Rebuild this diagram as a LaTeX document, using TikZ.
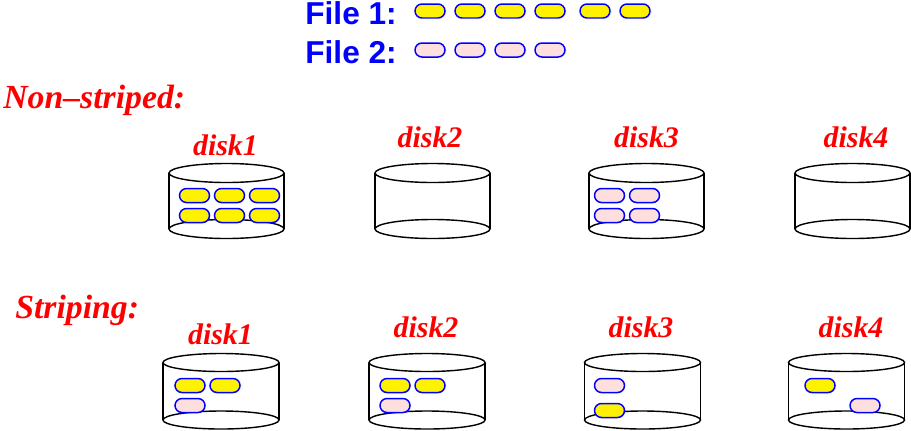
\documentclass[tikz,border=0pt]{standalone}
\usepackage{fontspec}
\setmainfont{Liberation Serif}
\newfontfamily\lsans{Liberation Sans}
\usetikzlibrary{shapes.misc}
\definecolor{pillpink}{RGB}{255,222,222}
\newcommand\drawcyl[5]{%
  \draw[cylline] (#1,#2) ellipse [x radius=#4, y radius=#5];
  \draw[cylline] (#1,#3) ellipse [x radius=#4, y radius=#5];
  \draw[cylline] (#1-#4,#2) -- (#1-#4,#3) (#1+#4,#2) -- (#1+#4,#3);}
\begin{document}
\begin{tikzpicture}[x=0.02cm,y=-0.02cm,
  pill/.style={draw=blue, line width=0.85pt, rounded rectangle, minimum width=0.6cm, minimum height=0.28cm, inner sep=0pt},
  yel/.style={pill, fill=yellow},
  pnk/.style={pill, fill=pillpink},
  disklabel/.style={text=red, font=\fontsize{17}{20}\selectfont\bfseries\itshape, anchor=base, inner sep=0pt},
  head/.style={text=red, font=\fontsize{19.2}{22}\selectfont\bfseries\itshape, anchor=base west, inner sep=0pt},
  filelabel/.style={text=blue, font=\lsans\bfseries\fontsize{18}{20}\selectfont, anchor=base west, inner sep=0pt},
  cylline/.style={black, line width=0.8pt}]
\useasboundingbox (0,0) rectangle (911,430);

% file legend
\node[filelabel] (file1) at (305,24) {File 1:};
\node[filelabel] (file2) at (305,63) {File 2:};
\node[yel] (a1) at (430,11) {};
\node[yel] (a2) at (470,11) {};
\node[yel] (a3) at (510,11) {};
\node[yel] (a4) at (550,11) {};
\node[yel] (a5) at (595,11) {};
\node[yel] (a6) at (635,11) {};
\node[pnk] (b1) at (430,50) {};
\node[pnk] (b2) at (470,50) {};
\node[pnk] (b3) at (510,50) {};
\node[pnk] (b4) at (550,50) {};

% headings
\node[head] (nonstriped) at (3,108) {Non--striped:};
\node[head] (striping) at (15,318) {Striping:};

% top row disks
\drawcyl{226.5}{173}{229}{57.5}{9.5}
\drawcyl{432.5}{173}{229}{57.5}{9.5}
\drawcyl{646.5}{173}{229}{57.5}{9.5}
\drawcyl{852.5}{173}{229}{57.5}{9.5}
\node[disklabel] (t1) at (225.5,155) {disk1};
\node[disklabel] (t2) at (430,147) {disk2};
\node[disklabel] (t3) at (646.5,147) {disk3};
\node[disklabel] (t4) at (856,147) {disk4};

\node[yel] (t1a) at (194.5,195.5) {};
\node[yel] (t1b) at (229.5,195.5) {};
\node[yel] (t1c) at (264.5,195.5) {};
\node[yel] (t1d) at (194.5,215.5) {};
\node[yel] (t1e) at (229.5,215.5) {};
\node[yel] (t1f) at (264.5,215.5) {};
\node[pnk] (t3a) at (609.5,195.5) {};
\node[pnk] (t3b) at (644.5,195.5) {};
\node[pnk] (t3c) at (609.5,215.5) {};
\node[pnk] (t3d) at (644.5,215.5) {};

% bottom row disks
\drawcyl{221}{362.5}{420}{58}{9}
\drawcyl{427}{362.5}{420}{58}{9}
\drawcyl{642.5}{362.5}{420}{58}{9}
\drawcyl{846.5}{362.5}{420}{58}{9}
\node[disklabel] (s1) at (220.5,344) {disk1};
\node[disklabel] (s2) at (426,337) {disk2};
\node[disklabel] (s3) at (641,337) {disk3};
\node[disklabel] (s4) at (851,337) {disk4};

\node[yel] (s1a) at (190,385.5) {};
\node[yel] (s1b) at (225,385.5) {};
\node[pnk] (s1c) at (190,405.5) {};
\node[yel] (s2a) at (395,385.5) {};
\node[yel] (s2b) at (430,385.5) {};
\node[pnk] (s2c) at (395,405.5) {};
\node[pnk] (s3a) at (609.5,385.5) {};
\node[yel] (s3b) at (609.5,410.5) {};
\node[yel] (s4a) at (820,385.5) {};
\node[pnk] (s4b) at (865,405.5) {};
\end{tikzpicture}
\end{document}
